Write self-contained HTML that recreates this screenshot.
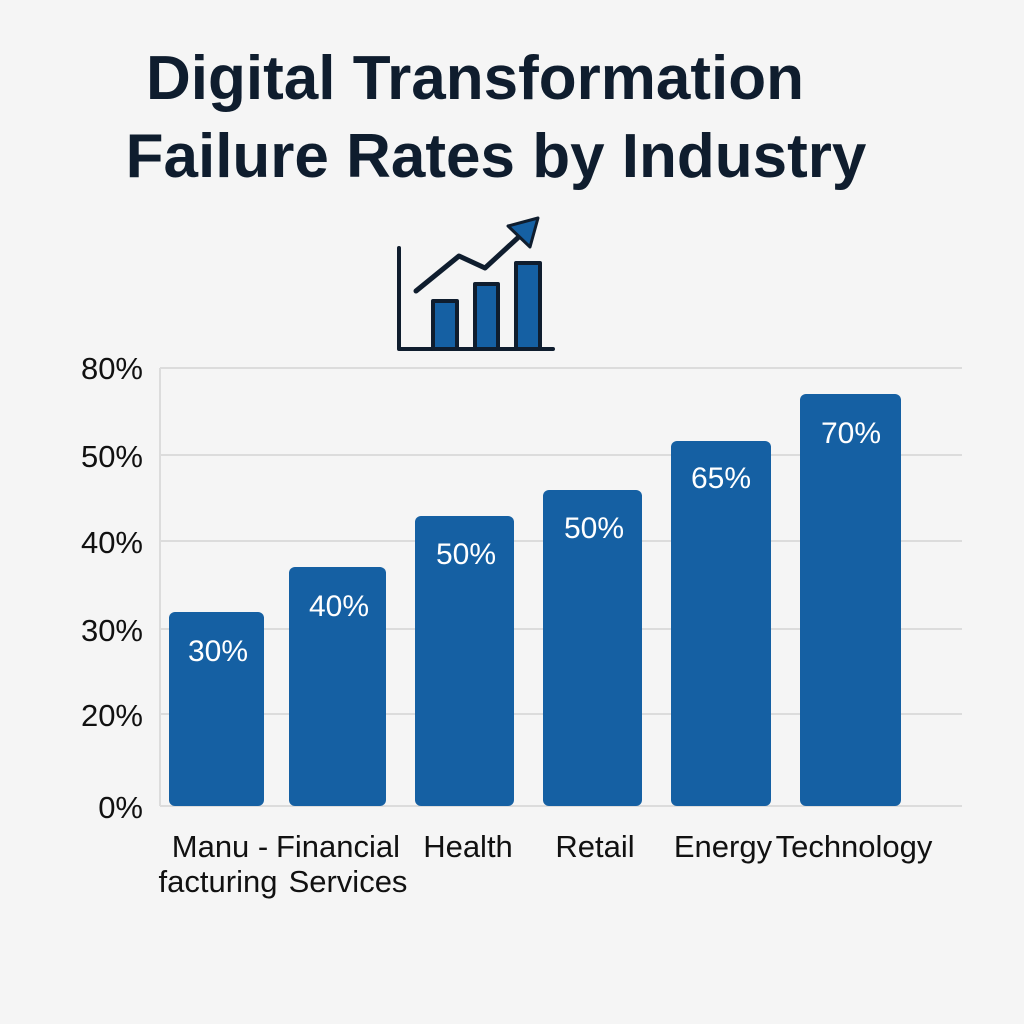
<!DOCTYPE html>
<html><head><style>
html,body{margin:0;padding:0;background:#f5f5f5;}
svg{display:block}
text{font-family:"Liberation Sans","DejaVu Sans",sans-serif;}
</style></head><body>
<svg width="1024" height="1024" viewBox="0 0 1024 1024">
<rect width="1024" height="1024" fill="#f5f5f5"/>
<text x="475" y="99" text-anchor="middle" font-size="62" font-weight="bold" fill="#0f1d2e">Digital Transformation</text>
<text x="496" y="177" text-anchor="middle" font-size="62" font-weight="bold" fill="#0f1d2e">Failure Rates by Industry</text>
<!-- icon -->
<g stroke="#0f1d2e" stroke-width="4" stroke-linejoin="round" stroke-linecap="round">
<polyline points="399,248 399,349 553,349" fill="none"/>
<rect x="433" y="301" width="24" height="48" fill="#1560a3"/>
<rect x="475" y="284" width="23" height="65" fill="#1560a3"/>
<rect x="516" y="263" width="24" height="86" fill="#1560a3"/>
<polyline points="416,291 459,256 485,268 522,234" fill="none" stroke-width="5"/>
<polygon points="508,226 538,218 530,247" fill="#1560a3" stroke-width="3"/>
</g>
<!-- grid -->
<g stroke="#dcdcdc" stroke-width="2">
<line x1="160" y1="368" x2="962" y2="368"/>
<line x1="160" y1="455" x2="962" y2="455"/>
<line x1="160" y1="541" x2="962" y2="541"/>
<line x1="160" y1="629" x2="962" y2="629"/>
<line x1="160" y1="714" x2="962" y2="714"/>
<line x1="160" y1="806" x2="962" y2="806"/>
<line x1="160" y1="368" x2="160" y2="806"/>
</g>
<g font-size="31" fill="#111" text-anchor="end">
<text x="143" y="379">80%</text>
<text x="143" y="467">50%</text>
<text x="143" y="553">40%</text>
<text x="143" y="641">30%</text>
<text x="143" y="726">20%</text>
<text x="143" y="818">0%</text>
</g>
<g fill="#1560a3">
<rect x="169" y="612" width="95" height="194" rx="6"/>
<rect x="289" y="567" width="97" height="239" rx="6"/>
<rect x="415" y="516" width="99" height="290" rx="6"/>
<rect x="543" y="490" width="99" height="316" rx="6"/>
<rect x="671" y="441" width="100" height="365" rx="6"/>
<rect x="800" y="394" width="101" height="412" rx="6"/>
</g>
<g font-size="30" fill="#fff" text-anchor="middle">
<text x="218" y="661">30%</text>
<text x="339" y="616">40%</text>
<text x="466" y="564">50%</text>
<text x="594" y="538">50%</text>
<text x="721" y="488">65%</text>
<text x="851" y="443">70%</text>
</g>
<g font-size="31" fill="#111" text-anchor="middle">
<text x="220" y="857">Manu -</text>
<text x="218" y="892">facturing</text>
<text x="338" y="857">Financial</text>
<text x="348" y="892">Services</text>
<text x="468" y="857">Health</text>
<text x="595" y="857">Retail</text>
<text x="723" y="857">Energy</text>
<text x="854" y="857">Technology</text>
</g>
</svg>
</body></html>
